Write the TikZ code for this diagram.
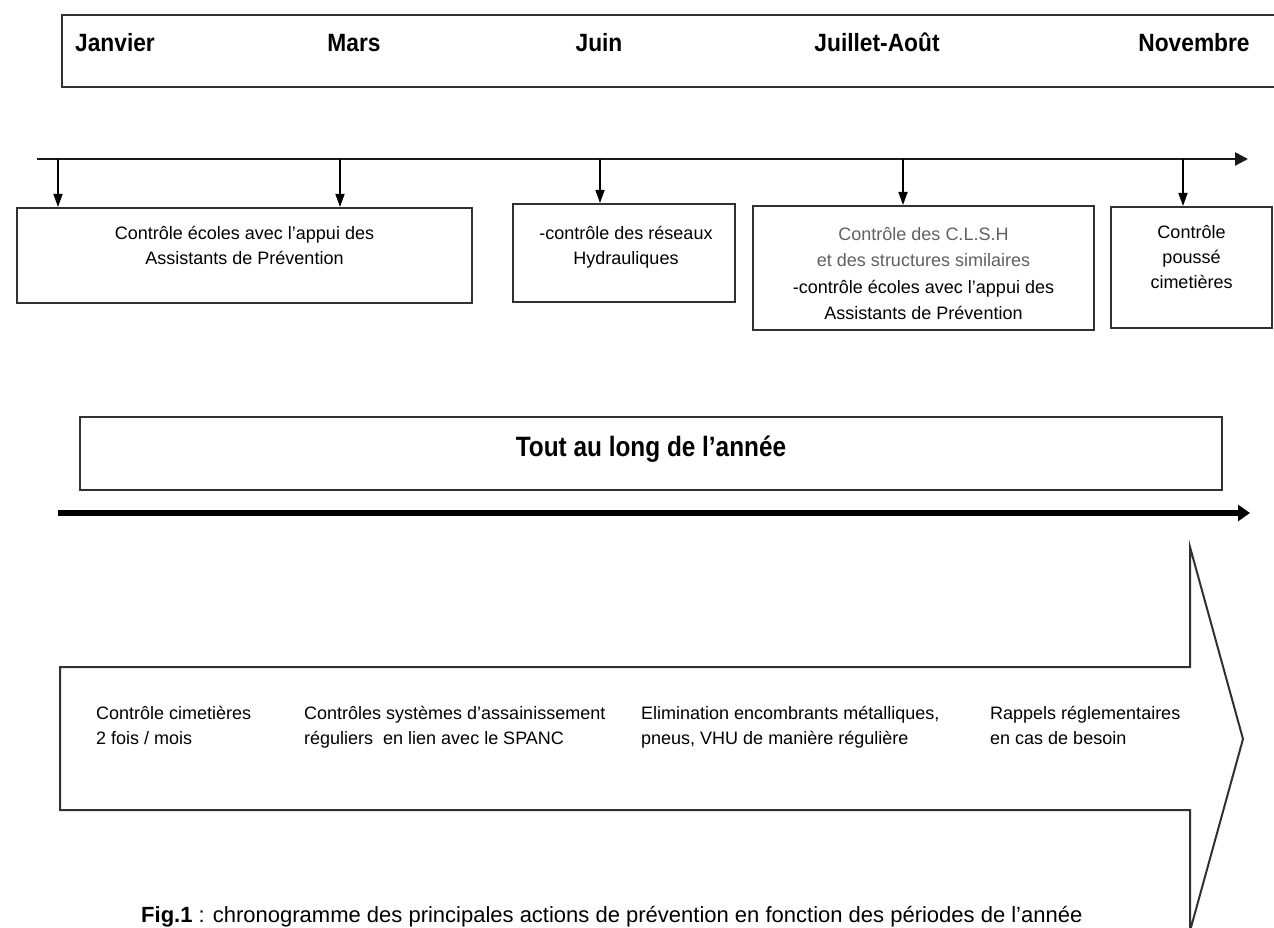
\documentclass[tikz,border=0pt]{standalone}
\usepackage{fontspec}
\setmainfont{Liberation Sans}
\newfontfamily\monthfont{Liberation Sans}[FakeStretch=0.91]
\newfontfamily\toutfont{Liberation Sans}[FakeStretch=0.87]
\usetikzlibrary{arrows.meta}
\definecolor{frame}{HTML}{333030}
\tikzset{
  frm/.style={draw=frame, line width=2pt},
  boxnode/.style={frm, rectangle, inner sep=0pt},
  monthlbl/.style={anchor=base, inner sep=0pt, font=\monthfont\bfseries\fontsize{25}{30}\selectfont},
  boxtxt/.style={anchor=north, inner sep=0pt, align=center, font=\fontsize{18}{25}\selectfont},
  arrtxt/.style={anchor=north west, inner sep=0pt, align=left, font=\fontsize{18}{25}\selectfont},
  downarr/.style={draw=black, line width=1.5pt, -{Triangle[length=13pt,width=9pt]}},
}
\begin{document}
\begin{tikzpicture}[x=1pt,y=-1pt]
\useasboundingbox (0,0) rectangle (1274,928);
\clip (0,0) rectangle (1274,928);
\fill[white] (0,0) rectangle (1274,928);

% month bar
\node[boxnode, line width=2.5pt, minimum width=1228pt, minimum height=72pt] (monthbar) at (676,51) {};
\node[monthlbl] (mJan) at (115,52) {Janvier};
\node[monthlbl] (mMar) at (354,52) {Mars};
\node[monthlbl] (mJun) at (599,52) {Juin};
\node[monthlbl] (mJul) at (877,52) {Juillet-Août};
\node[monthlbl] (mNov) at (1194,52) {Novembre};

% timeline
\coordinate (tl0) at (37,159);
\coordinate (tl1) at (1248,159);
\draw[line width=2.5pt, draw=black!90, -{Triangle[length=13pt,width=13pt]}] (tl0) -- (tl1);
\coordinate (tJan) at (58,159);
\coordinate (tMar) at (340,159);
\coordinate (tJun) at (600,159);
\coordinate (tJul) at (903,159);
\coordinate (tNov) at (1183,159);

% boxes
\node[boxnode, minimum width=455pt, minimum height=95pt] (b1) at (244.5,255.5) {};
\node[boxnode, minimum width=222pt, minimum height=98pt] (b2) at (624,253) {};
\node[boxnode, minimum width=341pt, minimum height=124pt] (b3) at (923.5,268) {};
\node[boxnode, minimum width=161pt, minimum height=121pt] (b4) at (1191.5,267.5) {};

\draw[downarr] (tJan) -- (tJan |- b1.north);
\draw[downarr] (tMar) -- (tMar |- b1.north);
\draw[downarr] (tJun) -- (tJun |- b2.north);
\draw[downarr] (tJul) -- (tJul |- b3.north);
\draw[downarr] (tNov) -- (tNov |- b4.north);

\node[boxtxt] (b1t) at (244.5,222) {\strut Contrôle écoles avec l'appui des\\Assistants de Prévention};
\node[boxtxt] (b2t) at (626,222) {\strut -contrôle des réseaux\\Hydrauliques};
\node[boxtxt, font=\fontsize{18}{26.3}\selectfont] (b3t) at (923.5,222) {\strut\textcolor{black!62}{Contrôle des C.L.S.H}\\\textcolor{black!62}{et des structures similaires}\\-contrôle écoles avec l'appui des\\Assistants de Prévention};
\node[boxtxt] (b4t) at (1191.5,221) {\strut Contrôle\\poussé\\cimetières};

% all year
\node[boxnode, minimum width=1142pt, minimum height=73pt] (year) at (651,453.5) {};
\node[anchor=base, inner sep=0pt, font=\toutfont\bfseries\fontsize{28}{32}\selectfont] (yeart) at (651,456) {Tout au long de l’année};
\coordinate (ya0) at (58,513);
\coordinate (ya1) at (1250,513);
\draw[line width=6pt, draw=black, -{Triangle[length=12pt,width=16pt]}] (ya0) -- (ya1);

% big arrow
\draw[frm, line join=miter] (60,667) -- (1190,667) -- (1190,547) -- (1243,739) -- (1190,931) -- (1190,810) -- (60,810) -- cycle;
\node[arrtxt] (a1) at (96,702) {\strut Contrôle cimetières\\2 fois / mois};
\node[arrtxt] (a2) at (304,702) {\strut Contrôles systèmes d'assainissement\\réguliers\ \ en lien avec le SPANC};
\node[arrtxt] (a3) at (641,702) {\strut Elimination encombrants métalliques,\\pneus, VHU de manière régulière};
\node[arrtxt] (a4) at (990,702) {\strut Rappels réglementaires\\en cas de besoin};

% caption
\node[anchor=base west, inner sep=0pt, font=\fontsize{22}{26}\selectfont] (cap) at (141,922) {\textbf{Fig.1} : chronogramme des principales actions de prévention en fonction des périodes de l’année};
\end{tikzpicture}
\end{document}
